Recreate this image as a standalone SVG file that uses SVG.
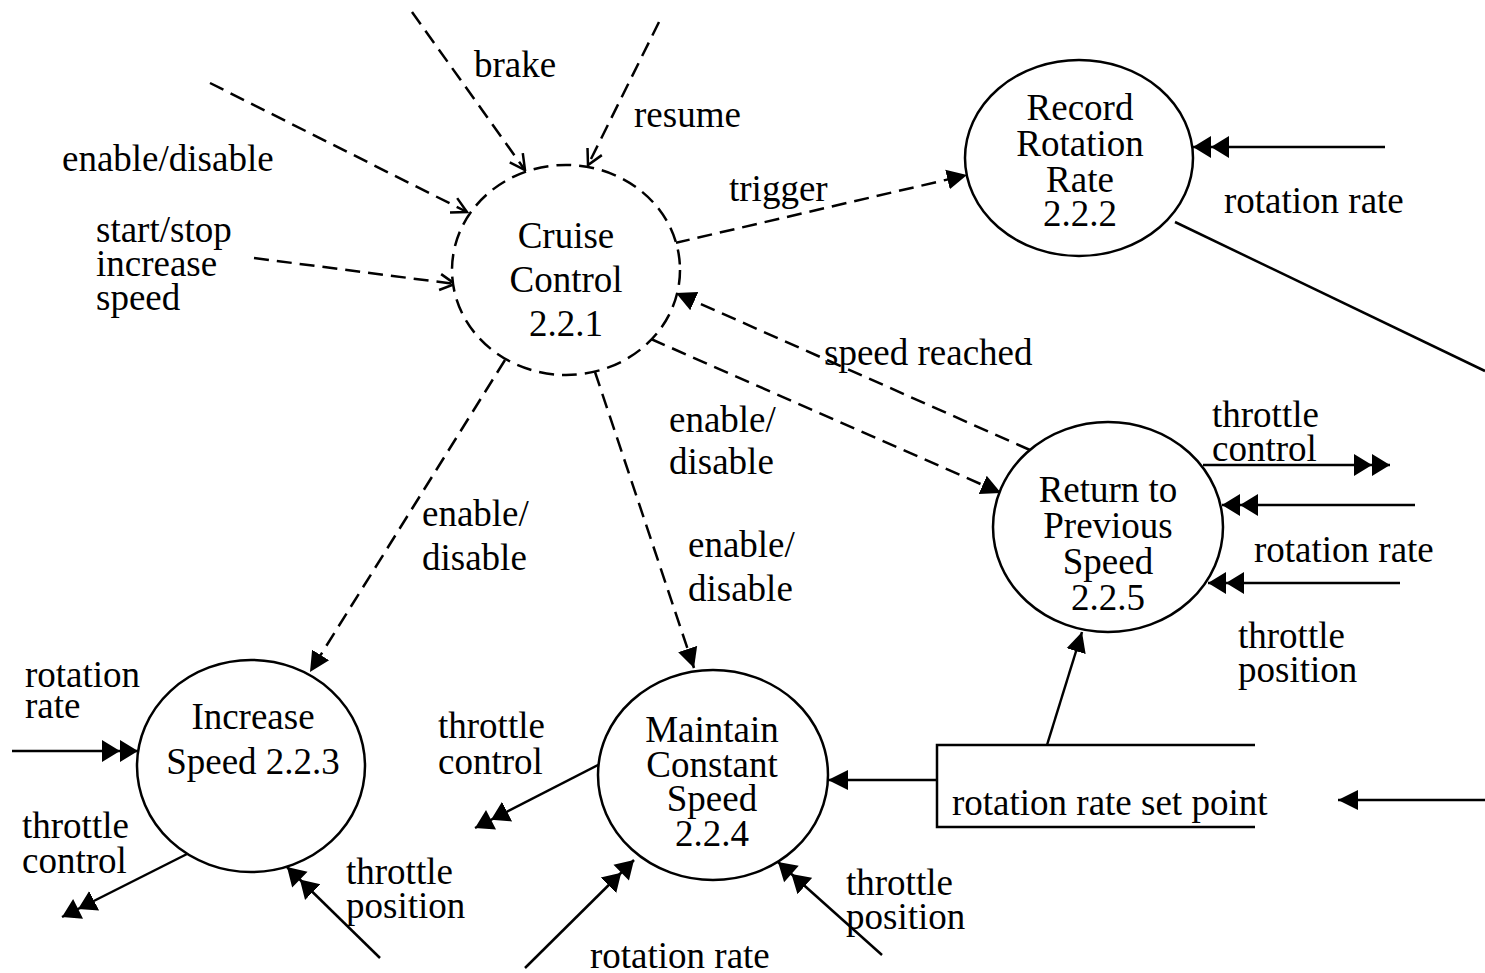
<svg xmlns="http://www.w3.org/2000/svg" width="1485" height="973" viewBox="0 0 1485 973">
  <style>
    text { font-family: "Liberation Serif", "Times New Roman", serif; font-size: 37px; fill: #000; }
    .c { text-anchor: middle; }
    .proc { fill: #fff; stroke: #000; stroke-width: 2.5; }
    .ctlproc { fill: #fff; stroke: #000; stroke-width: 2.5; stroke-dasharray: 15 8; }
    .ctl { fill: none; stroke: #000; stroke-width: 2.5; stroke-dasharray: 15 8; }
    .flow { fill: none; stroke: #000; stroke-width: 2.5; }
    .store { fill: none; stroke: #000; stroke-width: 2.5; }
  </style>
  <defs>
    <!-- filled single arrowhead -->
    <marker id="tri" markerUnits="userSpaceOnUse" viewBox="0 0 22 22" markerWidth="22" markerHeight="22" refX="20" refY="11" orient="auto">
      <path d="M0,1 L20,11 L0,21 z" fill="#000" stroke="none"/>
    </marker>
    <!-- filled double arrowhead for continuous flows -->
    <marker id="dbl" markerUnits="userSpaceOnUse" viewBox="0 0 38 24" markerWidth="38" markerHeight="24" refX="36" refY="12" orient="auto">
      <path d="M0,1 L18,12 L0,23 z M18,1 L36,12 L18,23 z" fill="#000" stroke="none"/>
    </marker>
    <!-- open arrowhead for external event flows -->
    <marker id="vee" markerUnits="userSpaceOnUse" viewBox="0 0 20 20" markerWidth="20" markerHeight="20" refX="18" refY="10" orient="auto">
      <path d="M3,2 L18,10 L3,18" fill="none" stroke="#000" stroke-width="2.5" stroke-dasharray="none"/>
    </marker>
  </defs>

  <!-- connectors -->
  <g id="connectors">
    <!-- event flows into the control process -->
    <line class="ctl" x1="412" y1="12" x2="525" y2="170" marker-end="url(#vee)"/>
    <line class="ctl" x1="659" y1="22" x2="588" y2="165" marker-end="url(#vee)"/>
    <line class="ctl" x1="210" y1="83" x2="467" y2="212" marker-end="url(#vee)"/>
    <line class="ctl" x1="254" y1="258" x2="455" y2="284" marker-end="url(#vee)"/>
    <!-- control flows -->
    <line class="ctl" x1="675" y1="243" x2="967" y2="175" marker-end="url(#tri)"/>
    <line class="ctl" x1="1030" y1="450" x2="676" y2="293" marker-end="url(#tri)"/>
    <line class="ctl" x1="651" y1="339" x2="1001" y2="493" marker-end="url(#tri)"/>
    <line class="ctl" x1="505" y1="360" x2="310" y2="672" marker-end="url(#tri)"/>
    <line class="ctl" x1="595" y1="372" x2="694" y2="668" marker-end="url(#tri)"/>

    <!-- Record Rotation Rate flows -->
    <line class="flow" x1="1385" y1="147" x2="1193" y2="147" marker-end="url(#dbl)"/>
    <line class="flow" x1="1175" y1="222" x2="1485" y2="371"/>

    <!-- Return to Previous Speed flows -->
    <line class="flow" x1="1203" y1="465" x2="1390" y2="465" marker-end="url(#dbl)"/>
    <line class="flow" x1="1415" y1="505" x2="1222" y2="505" marker-end="url(#dbl)"/>
    <line class="flow" x1="1400" y1="583" x2="1208" y2="583" marker-end="url(#dbl)"/>

    <!-- Increase Speed flows -->
    <line class="flow" x1="12" y1="751" x2="138" y2="751" marker-end="url(#dbl)"/>
    <line class="flow" x1="189" y1="853" x2="62" y2="917" marker-end="url(#dbl)"/>
    <line class="flow" x1="380" y1="958" x2="287" y2="867" marker-end="url(#dbl)"/>

    <!-- Maintain Constant Speed flows -->
    <line class="flow" x1="604" y1="762" x2="475" y2="828" marker-end="url(#dbl)"/>
    <line class="flow" x1="525" y1="968" x2="634" y2="860" marker-end="url(#dbl)"/>
    <line class="flow" x1="882" y1="955" x2="778" y2="862" marker-end="url(#dbl)"/>

    <!-- data store flows -->
    <line class="flow" x1="937" y1="780" x2="828" y2="780" marker-end="url(#tri)"/>
    <line class="flow" x1="1047" y1="745" x2="1082" y2="632" marker-end="url(#tri)"/>
    <line class="flow" x1="1485" y1="800" x2="1338" y2="800" marker-end="url(#tri)"/>
  </g>

  <!-- Cruise Control (control process) -->
  <g id="cruise-control">
    <ellipse class="ctlproc" cx="566" cy="270" rx="114" ry="105"/>
    <text class="c" x="566" y="248">Cruise</text>
    <text class="c" x="566" y="292">Control</text>
    <text class="c" x="566" y="336">2.2.1</text>
  </g>

  <!-- Record Rotation Rate -->
  <g id="record-rotation-rate">
    <ellipse class="proc" cx="1079" cy="158" rx="114" ry="98"/>
    <text class="c" x="1080" y="120">Record</text>
    <text class="c" x="1080" y="156">Rotation</text>
    <text class="c" x="1080" y="192">Rate</text>
    <text class="c" x="1080" y="226">2.2.2</text>
  </g>

  <!-- Return to Previous Speed -->
  <g id="return-to-previous-speed">
    <ellipse class="proc" cx="1108" cy="527" rx="115" ry="105"/>
    <text class="c" x="1108" y="502">Return to</text>
    <text class="c" x="1108" y="538">Previous</text>
    <text class="c" x="1108" y="574">Speed</text>
    <text class="c" x="1108" y="610">2.2.5</text>
  </g>

  <!-- Increase Speed -->
  <g id="increase-speed">
    <ellipse class="proc" cx="251" cy="766" rx="114" ry="106"/>
    <text class="c" x="253" y="729">Increase</text>
    <text class="c" x="253" y="774">Speed 2.2.3</text>
  </g>

  <!-- Maintain Constant Speed -->
  <g id="maintain-constant-speed">
    <ellipse class="proc" cx="713" cy="775" rx="115" ry="105"/>
    <text class="c" x="712" y="742">Maintain</text>
    <text class="c" x="712" y="777">Constant</text>
    <text class="c" x="712" y="811">Speed</text>
    <text class="c" x="712" y="846">2.2.4</text>
  </g>

  <!-- data store -->
  <g id="rotation-rate-set-point">
    <path class="store" d="M1255,745 H937 V827 H1255"/>
    <text x="952" y="815">rotation rate set point</text>
  </g>

  <!-- flow labels -->
  <g id="labels">
    <text x="474" y="77">brake</text>
    <text x="634" y="127">resume</text>
    <text x="62" y="171">enable/disable</text>
    <text x="96" y="242">start/stop</text>
    <text x="96" y="276">increase</text>
    <text x="96" y="310">speed</text>
    <text x="729" y="201">trigger</text>
    <text x="1224" y="213">rotation rate</text>
    <text x="824" y="365">speed reached</text>
    <text x="669" y="432">enable/</text>
    <text x="669" y="474">disable</text>
    <text x="1212" y="427">throttle</text>
    <text x="1212" y="461">control</text>
    <text x="1254" y="562">rotation rate</text>
    <text x="1238" y="648">throttle</text>
    <text x="1238" y="682">position</text>
    <text x="422" y="526">enable/</text>
    <text x="422" y="570">disable</text>
    <text x="688" y="557">enable/</text>
    <text x="688" y="601">disable</text>
    <text x="25" y="687">rotation</text>
    <text x="25" y="718">rate</text>
    <text x="438" y="738">throttle</text>
    <text x="438" y="774">control</text>
    <text x="22" y="838">throttle</text>
    <text x="22" y="873">control</text>
    <text x="346" y="884">throttle</text>
    <text x="346" y="918">position</text>
    <text x="846" y="895">throttle</text>
    <text x="846" y="929">position</text>
    <text x="590" y="968">rotation rate</text>
  </g>
</svg>
